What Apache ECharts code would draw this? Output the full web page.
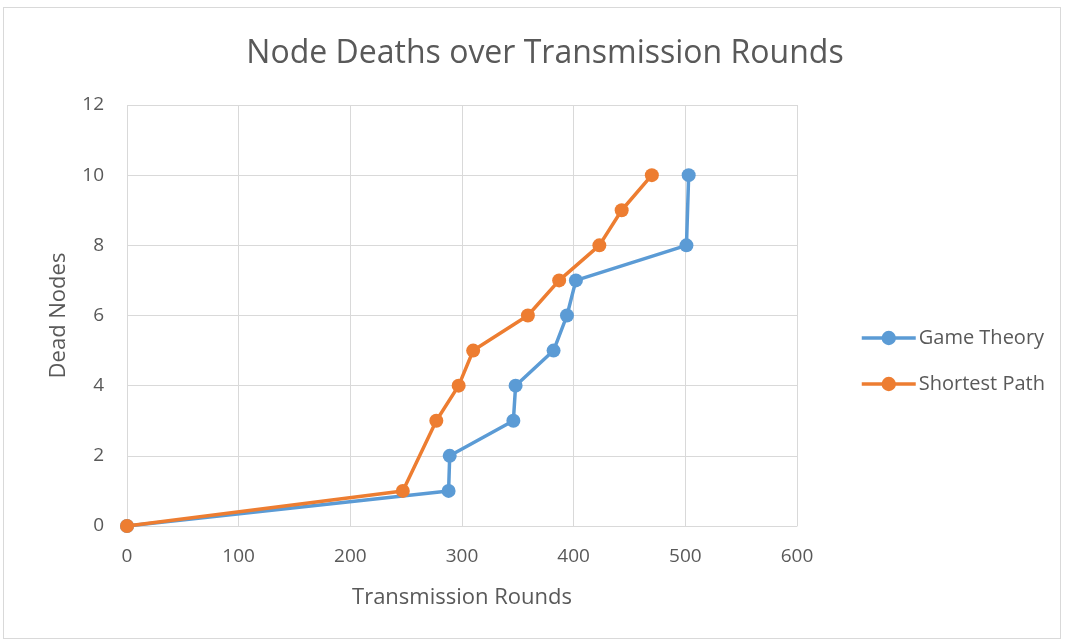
<!DOCTYPE html>
<html>
<head>
<meta charset="utf-8">
<script src="https://cdn.jsdelivr.net/npm/echarts@6/dist/echarts.min.js"></script>
<style>
  html, body { margin: 0; padding: 0; background: #fff; }
  #wrap { position: absolute; left: 3px; top: 7px; width: 1058px; height: 632px; border: 1px solid #d9d9d9; box-sizing: border-box; }
  #chart { position: absolute; left: 0; top: 0; width: 1065px; height: 642px; }
</style>
</head>
<body>
<div id="wrap"></div>
<div id="chart"></div>
<script>
// Game Theory: [rounds, dead nodes]
const gameTheoryX = [0, 288, 289, 346, 348, 382, 394, 402, 501, 503];
const gameTheoryY = [0, 1, 2, 3, 4, 5, 6, 7, 8, 10];
// Shortest Path
const shortestX = [0, 247, 277, 297, 310, 359, 387, 423, 443, 470];
const shortestY = [0, 1, 3, 4, 5, 6, 7, 8, 9, 10];

const xTicks = [0, 100, 200, 300, 400, 500, 600];
const yTicks = [0, 2, 4, 6, 8, 10, 12];

const pair = (xs, ys) => xs.map((x, i) => [x, ys[i]]);

const txt = '#595959';
const font = '"Open Sans", "Liberation Sans", sans-serif';

const chart = echarts.init(document.getElementById('chart'));
chart.setOption({
    animation: false,
    textStyle: { fontFamily: font, color: txt },
    title: {
        text: 'Node Deaths over Transmission Rounds',
        left: 540, top: 33, textAlign: 'center',
        textStyle: { fontFamily: font, fontSize: 32, fontWeight: 'normal', color: txt }
    },
    legend: {
        orient: 'vertical',
        left: 855, top: 323,
        itemWidth: 54, itemHeight: 18, itemGap: 26,
        lineStyle: { width: 3.5 },
        textStyle: { fontFamily: font, fontSize: 20, color: txt, padding: [0, 0, 0, -2] },
        data: ['Game Theory', 'Shortest Path']
    },
    grid: { left: 127, right: 268, top: 105, bottom: 116 },
    xAxis: {
        type: 'value', min: 0, max: 600, interval: 100,
        name: 'Transmission Rounds', nameLocation: 'middle', nameGap: 61,
        nameTextStyle: { fontFamily: font, fontSize: 22, color: txt },
        axisLine: { show: true, lineStyle: { color: '#d9d9d9', width: 1 } },
        axisTick: { show: false },
        axisLabel: { fontFamily: font, fontSize: 19, color: txt, margin: 21,
            formatter: v => xTicks.includes(v) ? String(v) : '' },
        splitLine: { show: true, lineStyle: { color: '#d9d9d9', width: 1 } }
    },
    yAxis: {
        type: 'value', min: 0, max: 12, interval: 2,
        name: 'Dead Nodes', nameLocation: 'middle', nameGap: 57,
        nameTextStyle: { fontFamily: font, fontSize: 22, color: txt },
        axisLine: { show: false },
        axisTick: { show: false },
        axisLabel: { fontFamily: font, fontSize: 19, color: txt, margin: 23,
            formatter: v => yTicks.includes(v) ? String(v) : '' },
        splitLine: { show: true, lineStyle: { color: '#d9d9d9', width: 1 } }
    },
    series: [
        {
            name: 'Game Theory', type: 'line',
            data: pair(gameTheoryX, gameTheoryY),
            symbol: 'circle', symbolSize: 14,
            lineStyle: { color: '#5b9bd5', width: 3.5 },
            itemStyle: { color: '#5b9bd5' },
            z: 2
        },
        {
            name: 'Shortest Path', type: 'line',
            data: pair(shortestX, shortestY),
            symbol: 'circle', symbolSize: 14,
            lineStyle: { color: '#ed7d31', width: 3.5 },
            itemStyle: { color: '#ed7d31' },
            z: 3
        }
    ]
});
</script>
</body>
</html>
